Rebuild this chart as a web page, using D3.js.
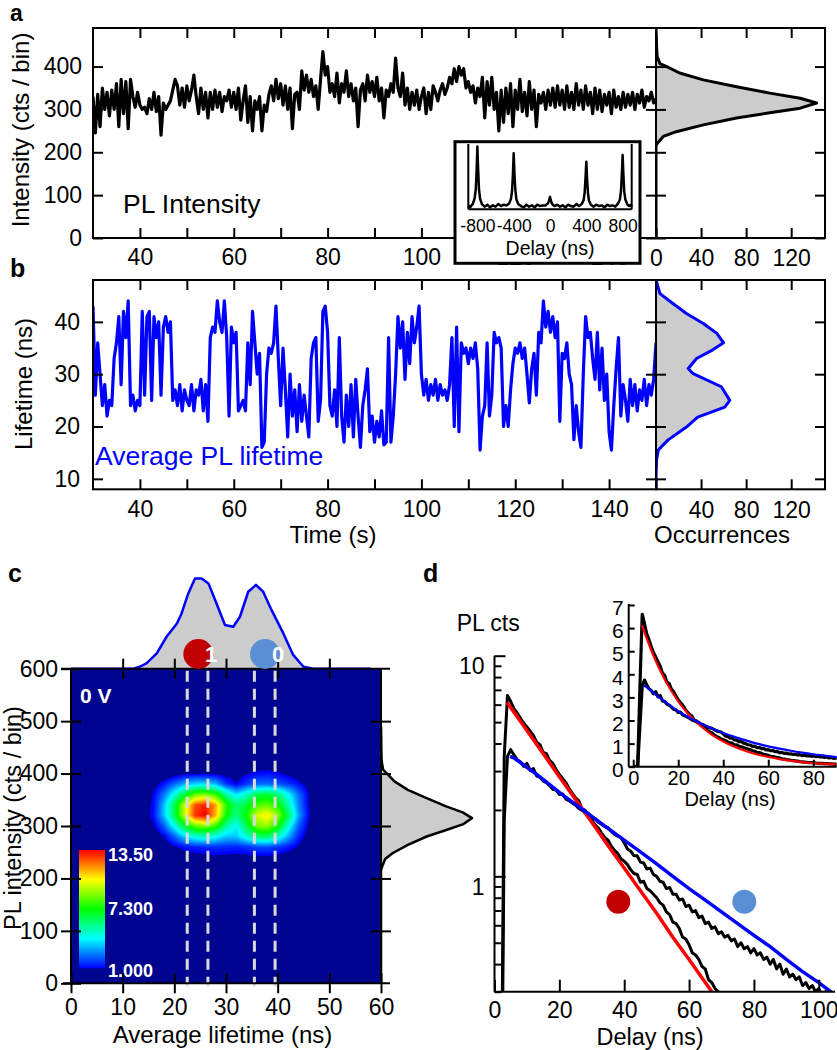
<!DOCTYPE html>
<html><head><meta charset="utf-8">
<script src="https://cdn.jsdelivr.net/npm/d3@7"></script>
<style>
body{margin:0;background:#fff;}
svg text{font-family:"Liberation Sans",Arial,sans-serif;}
</style></head><body>
<svg id="fig" width="837" height="1050" xmlns="http://www.w3.org/2000/svg"></svg>
<script>
// ================= DATA =================
// Panels a/b: time traces sampled every 0.5 s from 30 s
const traceStart = 30, traceStep = 0.5;
const intensityTrace = [
 330,245,335,260,350,300,340,285,345,300, 360,260,370,290,365,255,370,330,305,340,
 310,300,305,290,325,300,340,295,330,240, 315,300,310,320,345,370,355,310,350,305,
 355,320,345,380,330,290,350,300,340,280, 340,300,345,305,340,295,330,320,345,305,
 340,300,350,275,320,355,270,330,250,320, 300,330,250,310,295,335,355,320,370,325,
 360,310,355,300,350,255,335,340,300,390, 345,380,340,370,330,355,300,370,435,380,
 400,340,360,330,385,315,360,340,390,330, 360,320,350,260,345,360,320,380,340,365,
 330,375,320,350,280,345,330,360,340,420, 350,330,385,310,350,300,340,310,345,300,
 330,350,290,340,300,355,340,320,345,360, 335,350,375,360,395,365,400,380,395,350,
 365,340,355,315,350,330,375,280,365,310, 375,300,340,250,345,270,350,290,360,260,
 345,300,370,295,340,285,365,300,345,260, 335,315,340,300,345,310,350,305,355,310,
 345,300,355,305,340,300,360,310,345,300, 355,310,340,290,350,300,345,295,335,310,
 340,290,345,305,330,300,340,305,335,310, 340,300,335,315,345,305,330,320,340,315,
 325];
const lifetimeTrace = [
 43,26,36,30,24,28,22,25,24,33, 36,41,28,42,37,44,24,26,23,25,
 24,42,26,41,42,25,41,37,40,26, 39,41,38,40,25,27,24,28,23,27,
 25,24,28,23,27,26,29,23,28,21, 37,39,38,44,40,38,44,37,22,39,
 36,38,23,24,25,23,36,28,42,36, 30,34,16,17,30,35,34,36,43,33,
 24,35,27,18,30,22,27,19,28,21, 26,22,18,33,36,37,21,25,42,43,
 38,24,22,27,20,37,22,17,26,20, 28,18,29,22,16,24,27,31,19,22,
 17,21,18,23,16.5,17,37,17,22,30, 41,35,40,29,38,32,41,36,39,43,
 30,26,29,25,28,26,29,25,28,26, 27,25,28,37,20,39,19,36,34,35,
 32,35,33,36,31,15.5,22,24,36,22, 26,38,36,37,35,20,24,20,27,32,
 35,34,36,33,35,30,24.5,31,34,26, 38,36,44,39,42,38,41,37,40,21,
 34,33,36,30,28,17.5,24,19,16,30, 41,37,38,33,29,38,27,35,25,30,
 19,15.5,24,31,37,22,28,25,21,29, 24,28,23,27,25,29,24,28,26,29,
 36];
const timeTicks = [40,50,60,70,80,90,100,110,120,130,140];
const intensityTicks = [0,100,200,300,400];
const lifetimeTicks = [10,20,30,40];
const occTicks = [0,40,80,120];

// Intensity histogram (a, and right side of c)
const intHistBins   = [490,470,450,430,422,407,400,385,369,353,338,326,315,303,292,280,264,248,237,221,215,200,0];
const intHistCounts = [0,0.3,0.5,0.8,1.2,3.5,9.5,21,42,71.5,101,128,142.5,128,101,71.5,42,18,6.5,1.2,0,0,0];
// Lifetime histogram (b)
const ltHistBins   = [48,47.3,45.4,43.5,41.6,39.7,37.8,36.0,34.6,33.0,31.1,30.1,27.6,25.0,23.7,21.8,19.9,17.4,15.5,13.6,10.4,8];
const ltHistCounts = [0,1,3.5,15,27,42,54,60,50,36,28.6,33,58,65.5,61,37,27,10.5,2,0.5,0,0];
// Lifetime histogram on top of c
const cTopBins   = [0,12.1,13.3,14.6,16.6,18.5,20.5,21.4,22.7,24.0,25.3,26.6,27.9,29.8,31.4,32.7,34.3,35.8,37.2,38.8,41.1,43.0,45.0,46.9,58];
const cTopCounts = [0,0,1.4,3.8,11,23,32.6,39.8,54.2,65,65,61.4,49.5,31.5,30.2,37.4,55.4,60.3,55.4,42.3,25.4,9.9,1.4,0,0];

// Inset a: photon correlation
const g2Delay = [-900,-880,-860,-850,-830,-818,-808,-800,-792,-782,-770,-750,
 -720,-690,-660,-630,-600,-570,-540,-510,-480,
 -450,-430,-418,-408,-400,-392,-382,-370,-350,
 -320,-290,-260,-230,-200,-170,-140,-110,-80,
 -50,-30,-18,-8,0,8,18,30,50,
 80,110,140,170,200,230,260,290,320,
 350,370,382,392,400,408,418,430,450,
 480,510,540,570,600,630,660,690,720,
 750,770,782,792,800,808,818,830,850,870,890,900];
const g2Counts = [0.06,0.03,0.07,0.08,0.17,0.3,0.6,0.96,0.62,0.3,0.16,0.08,
 0.04,0.07,0.03,0.06,0.04,0.08,0.05,0.07,0.06,
 0.09,0.16,0.28,0.55,0.86,0.56,0.3,0.15,0.08,
 0.05,0.03,0.07,0.04,0.06,0.03,0.07,0.05,0.06,
 0.06,0.08,0.1,0.15,0.19,0.14,0.1,0.07,0.05,
 0.07,0.04,0.06,0.03,0.07,0.05,0.04,0.08,0.05,
 0.08,0.14,0.26,0.5,0.73,0.48,0.25,0.13,0.07,
 0.04,0.07,0.05,0.06,0.03,0.07,0.05,0.06,0.04,
 0.09,0.15,0.28,0.55,0.83,0.55,0.27,0.15,0.08,0.05,0.07,0.04];
const g2Ticks = [-800,-400,0,400,800];

// Panel c: 2D histogram (rows = intensity, top to bottom; cols = lifetime)
const hmLifetimes = [12,14,16,18,20,22,24,26,28,30,32,34,36,38,40,42,44,46,48,50];
const hmIntensities = [440,420,400,380,360,340,320,300,280,260,240,220,200];
const hmValues = [
 [0,0,0,0,0,0,0,0,0,0,0,0,0,0,0,0,0,0,0,0],
 [0,0,0,0,0,0.1,0.2,0.2,0.1,0.1,0.1,0.2,0.3,0.4,0.3,0.1,0,0,0,0],
 [0,0,0,0.2,0.5,0.8,0.9,0.9,0.8,0.6,0.6,0.9,1.2,1.3,1.1,0.8,0.4,0.1,0,0],
 [0,0.1,0.6,1.4,2.4,3.3,3.8,3.9,3.4,1.8,1.0,1.8,2.4,2.5,2.2,1.8,1.3,0.6,0.1,0],
 [0,0.3,1.1,2.6,4.6,6.8,8.6,9.0,8.0,5.5,4.0,5.0,6.4,6.8,6.0,4.4,2.5,1.0,0.2,0],
 [0,0.5,1.2,3.5,6.4,9.8,12.6,13.3,11.6,8.0,6.0,6.8,8.2,8.6,7.6,5.4,2.8,1.0,0.2,0],
 [0,0.5,1.3,3.5,6.4,9.8,13.0,13.7,11.4,7.5,5.8,7.5,10.0,10.8,9.2,6.4,3.2,1.1,0.2,0],
 [0,0.3,0.9,2.3,4.4,6.8,8.6,9.0,8.0,5.5,4.2,6.5,8.8,9.2,7.6,4.8,2.3,0.8,0.1,0],
 [0,0,0.3,1.0,2.3,3.8,4.8,5.0,4.4,3.6,3.6,4.8,6.0,6.2,5.0,3.3,1.6,0.5,0,0],
 [0,0,0,0.3,0.9,1.3,1.5,1.6,1.7,1.6,1.5,1.7,2.0,2.1,1.8,1.4,0.9,0.3,0,0],
 [0,0,0,0,0.2,0.4,0.6,0.7,0.8,0.75,0.7,0.7,0.8,0.8,0.7,0.5,0.3,0,0,0],
 [0,0,0,0,0,0,0,0,0,0,0,0,0,0,0,0,0,0,0,0],
 [0,0,0,0,0,0,0,0,0,0,0,0,0,0,0,0,0,0,0,0]];
const cbRange = [1.0, 13.5];
const cbLabels = ["13.50","7.300","1.000"];
const cbLabelValues = [13.5, 7.3, 1.0];
const gateLines = [22.5, 26.5, 35.5, 39.5];
const cLifeTicks = [0,10,20,30,40,50,60];
const cIntTicks = [0,100,200,300,400,500,600];

// Panel d: decay histograms (1 ns bins from 0 ns)
const decayStart = 0, decayStep = 1;
const decayFast = [0,0,0.05,3.5,6.6,6.2,5.75,5.5,5.2,4.95,
 4.75,4.55,4.35,4.05,3.95,3.65,3.6,3.35,3.25,3.05,
 2.9,2.78,2.66,2.5,2.38,2.27,2.2,2.02,1.99,1.88,
 1.8,1.71,1.66,1.57,1.5,1.46,1.37,1.31,1.27,1.2,
 1.17,1.13,1.07,1.03,1.02,0.94,0.95,0.88,0.86,0.83,
 0.8,0.76,0.74,0.69,0.67,0.62,0.61,0.58,0.53,0.52,
 0.49,0.45,0.44,0.42,0.39,0.38,0.34,0.33,0.31,0.3,
 0.28,0.26,0.25,0.24,0.22,0.21,0.2,0.19,0.18,0.18,
 0.17,0.16,0.15,0.15,0.14,0.13,0.13,0.12,0.12,0.11,
 0.11,0.1,0.1,0.09,0.09,0.09,0.08,0.08,0.08,0.07,
 0.07,0.07,0.07,0.06,0.06,0.06];
const decaySlow = [0,0,0.03,1.8,3.5,3.75,3.55,3.38,3.3,3.15,
 3.25,3.02,3.08,2.85,2.82,2.7,2.66,2.58,2.48,2.46,
 2.35,2.36,2.24,2.2,2.15,2.1,2.03,1.99,1.94,1.93,
 1.84,1.83,1.76,1.72,1.68,1.66,1.6,1.55,1.52,1.5,
 1.42,1.33,1.3,1.24,1.24,1.16,1.15,1.08,1.09,1.02,
 1.0,0.95,0.94,0.88,0.89,0.83,0.83,0.78,0.79,0.73,
 0.74,0.69,0.7,0.65,0.66,0.61,0.62,0.58,0.59,0.55,
 0.56,0.53,0.54,0.51,0.52,0.48,0.5,0.47,0.48,0.45,
 0.47,0.44,0.45,0.42,0.43,0.4,0.42,0.38,0.4,0.36,
 0.38,0.35,0.36,0.34,0.35,0.32,0.33,0.31,0.32,0.3,
 0.31,0.29,0.3,0.28,0.29,0.27];
const fitRedT = [3.9,6,8,10,12,15,20,25,30,35,40,45,50,55,60,65,70,75,80,85,90];
const fitRedV = [6.13,5.55,5.04,4.58,4.16,3.6,2.83,2.23,1.76,1.38,1.09,0.86,0.68,0.53,0.42,0.33,0.26,0.2,0.16,0.13,0.1];
const fitBlueT = [4.8,6,8,10,12,15,20,25,30,35,40,45,50,55,60,65,70,75,80,85,90,95,100,105];
const fitBlueV = [3.5,3.44,3.28,3.12,2.97,2.75,2.4,2.12,1.87,1.65,1.46,1.29,1.14,1.0,0.88,0.78,0.69,0.61,0.54,0.48,0.42,0.37,0.33,0.29];
const delayTicks = [0,20,40,60,80,100];
const insetDelayTicks = [0,20,40,60,80];
const insetCountTicks = [0,1,2,3,4,5,6,7];

// ================= DRAWING =================
const FONT = "Liberation Sans, Arial, sans-serif";
const svg = d3.select("#fig");
const defs = svg.append("defs");
function clip(id, x, y, w, h){ defs.append("clipPath").attr("id",id).append("rect").attr("x",x).attr("y",y).attr("width",w).attr("height",h); return `url(#${id})`; }
function ax(g, axis, fs){
  g.call(axis);
  g.select(".domain").remove();
  g.selectAll(".tick line").attr("stroke","#000").attr("stroke-width",2);
  g.selectAll(".tick text").attr("font-size",fs||23).attr("font-family",FONT).attr("fill","#000");
  return g;
}
function txt(x,y,s,opt={}){
  const t = svg.append("text").attr("x",x).attr("y",y).text(s)
    .attr("font-size",opt.fs||24).attr("font-family",FONT).attr("fill",opt.fill||"#000")
    .attr("text-anchor",opt.anchor||"start");
  if(opt.bold) t.attr("font-weight","bold");
  if(opt.rot) t.attr("transform",`rotate(${opt.rot},${x},${y})`);
  return t;
}
function hline(x1,x2,y,w){ svg.append("line").attr("x1",x1).attr("x2",x2).attr("y1",y).attr("y2",y).attr("stroke","#000").attr("stroke-width",w||2); }
function vline(x,y1,y2,w){ svg.append("line").attr("x1",x).attr("x2",x).attr("y1",y1).attr("y2",y2).attr("stroke","#000").attr("stroke-width",w||2); }
const tAt = i => traceStart + i*traceStep;
const plainNum = d => String(d);

// ---------- Panel a & b shared geometry ----------
const XL = 93, XR = 656, HR = 825;
const xT = d3.scaleLinear().domain([30,150]).range([XL,XR]);
const xOcc = d3.scaleLinear().domain([0,150]).range([XR,HR]);

function timePanel(top, bottom, yScale, trace, color, hBins, hCounts, yTicks, labelPad, leftPad, clipId){
  const cp = clip(clipId, XL, top, XR-XL, bottom-top);
  svg.append("path").datum(trace).attr("clip-path",cp)
    .attr("d", d3.line().x((d,i)=>xT(tAt(i))).y(d=>yScale(d)))
    .attr("fill","none").attr("stroke",color).attr("stroke-width",3.2).attr("stroke-linejoin","round");
  const hd = hBins.map((b,i)=>({b, c:hCounts[i]}));
  const cph = clip(clipId+"h", XR, top, HR-XR, bottom-top);
  svg.append("path").datum(hd).attr("clip-path",cph)
    .attr("d", d3.area().y(d=>yScale(d.b)).x0(xOcc(0)).x1(d=>xOcc(d.c))).attr("fill","#cccccc");
  svg.append("path").datum(hd).attr("clip-path",cph)
    .attr("d", d3.line().y(d=>yScale(d.b)).x(d=>xOcc(d.c)))
    .attr("fill","none").attr("stroke",color).attr("stroke-width",3).attr("stroke-linejoin","round");
  ax(svg.append("g").attr("transform",`translate(${XL},0)`), d3.axisLeft(yScale).tickValues(yTicks).tickSize(-10).tickPadding(leftPad));
  ax(svg.append("g").attr("transform",`translate(0,${bottom})`), d3.axisBottom(xT).tickValues(timeTicks).tickFormat(d=>d%20===0?d:"").tickSize(-10).tickPadding(labelPad));
  ax(svg.append("g").attr("transform",`translate(0,${top})`), d3.axisTop(xT).tickValues(timeTicks).tickFormat("").tickSize(-10));
  ax(svg.append("g").attr("transform",`translate(${XR},0)`), d3.axisLeft(yScale).tickValues(yTicks).tickFormat("").tickSize(10));
  ax(svg.append("g").attr("transform",`translate(${XR},0)`), d3.axisRight(yScale).tickValues(yTicks).tickFormat("").tickSize(10));
  ax(svg.append("g").attr("transform",`translate(${HR},0)`), d3.axisLeft(yScale).tickValues(yTicks).tickFormat("").tickSize(10));
  ax(svg.append("g").attr("transform",`translate(0,${bottom})`), d3.axisBottom(xOcc).tickValues(occTicks).tickSize(-10).tickPadding(labelPad+1));
  ax(svg.append("g").attr("transform",`translate(0,${top})`), d3.axisTop(xOcc).tickValues(occTicks.slice(1)).tickFormat("").tickSize(-10));
  svg.append("rect").attr("x",XL).attr("y",top).attr("width",XR-XL).attr("height",bottom-top).attr("fill","none").attr("stroke","#000").attr("stroke-width",2);
  svg.append("rect").attr("x",XR).attr("y",top).attr("width",HR-XR).attr("height",bottom-top).attr("fill","none").attr("stroke","#000").attr("stroke-width",2);
}

// Panel a
const yInt = d3.scaleLinear().domain([0,490]).range([238,28]);
timePanel(28, 238, yInt, intensityTrace, "#000", intHistBins, intHistCounts, intensityTicks, 11, 11, "clipA");
txt(10,21,"a",{fs:23,bold:true});
txt(123,213,"PL Intensity",{fs:26.5});
txt(29,130,"Intensity (cts / bin)",{anchor:"middle",rot:-90});

// Inset in a
svg.append("rect").attr("x",455).attr("y",141.7).attr("width",185).attr("height",121.6).attr("fill","#fff").attr("stroke","#000").attr("stroke-width",3);
const xG = d3.scaleLinear().domain([-900,900]).range([468.3,631.7]);
const yG = d3.scaleLinear().domain([0,1]).range([209.3,144]);
svg.append("path").datum(g2Delay.map((d,i)=>[d,g2Counts[i]]))
  .attr("d", d3.line().x(d=>xG(d[0])).y(d=>yG(d[1])))
  .attr("fill","none").attr("stroke","#000").attr("stroke-width",2.5).attr("stroke-linejoin","round");
vline(468.3,144,209.3,2); vline(631.7,144,209.3,2); hline(468.3,631.7,209.3,2);
ax(svg.append("g").attr("transform","translate(0,209.3)"), d3.axisBottom(xG).tickValues(g2Ticks).tickFormat(plainNum).tickSize(0).tickPadding(10), 17.5);
txt(550,255,"Delay (ns)",{anchor:"middle",fs:19.5});

// Panel b
const yLt = d3.scaleLinear().domain([8,48]).range([489.3,280]);
timePanel(280, 489.3, yLt, lifetimeTrace, "#0000ff", ltHistBins, ltHistCounts, lifetimeTicks, 11, 13, "clipB");
txt(10,277,"b",{fs:25,bold:true});
txt(95,465,"Average PL lifetime",{fs:26.5,fill:"#0000ff"});
txt(32,384,"Lifetime (ns)",{anchor:"middle",rot:-90});
txt(333,543,"Time (s)",{anchor:"middle"});
txt(722,543,"Occurrences",{anchor:"middle"});

// ---------- Panel c ----------
const C = {l:71, r:381, t:668.7, b:983.3};
const xC = d3.scaleLinear().domain([0,60]).range([C.l,C.r]);
const yC = d3.scaleLinear().domain([0,600]).range([C.b,C.t]);
const yCTop = d3.scaleLinear().domain([0,65]).range([C.t, C.t-90.3]);
const ctd = cTopBins.map((b,i)=>({b,c:cTopCounts[i]}));
svg.append("path").datum(ctd).attr("d", d3.area().x(d=>xC(d.b)).y0(yCTop(0)).y1(d=>yCTop(d.c))).attr("fill","#cccccc");
svg.append("path").datum(ctd).attr("d", d3.line().x(d=>xC(d.b)).y(d=>yCTop(d.c)))
  .attr("fill","none").attr("stroke","#0000ff").attr("stroke-width",2.5).attr("stroke-linejoin","round");
const xCR = d3.scaleLinear().domain([0,142.5]).range([C.r, 472]);
const crd = intHistBins.map((b,i)=>({b,c:intHistCounts[i]}));
svg.append("path").datum(crd).attr("d", d3.area().y(d=>yC(d.b)).x0(xCR(0)).x1(d=>xCR(d.c))).attr("fill","#cccccc");
svg.append("path").datum(crd).attr("d", d3.line().y(d=>yC(d.b)).x(d=>xCR(d.c)))
  .attr("fill","none").attr("stroke","#000").attr("stroke-width",2.5).attr("stroke-linejoin","round");
svg.append("rect").attr("x",C.l).attr("y",C.t).attr("width",C.r-C.l).attr("height",C.b-C.t).attr("fill","#00058f");
const nx = hmLifetimes.length, ny = hmIntensities.length, K = 5;
const NX = (nx-1)*K+1, NY = (ny-1)*K+1;
const fine = new Float64Array(NX*NY);
for(let j=0;j<NY;j++){ const gy=j/K, j0=Math.min(Math.floor(gy),ny-2), fy=gy-j0;
  for(let i=0;i<NX;i++){ const gx=i/K, i0=Math.min(Math.floor(gx),nx-2), fx=gx-i0;
    const a=hmValues[j0][i0], b=hmValues[j0][i0+1], c=hmValues[j0+1][i0], d=hmValues[j0+1][i0+1];
    fine[j*NX+i]=(a*(1-fx)+b*fx)*(1-fy)+(c*(1-fx)+d*fx)*fy; } }
const colorOf = v => d3.hsl(240*(1-(v-cbRange[0])/(cbRange[1]-cbRange[0])),1,0.5).toString();
const thresholds = d3.range(cbRange[0], cbRange[1]+0.01, 0.25);
const idxL = d3.scaleLinear().domain([0,nx-1]).range([hmLifetimes[0],hmLifetimes[nx-1]]);
const idxI = d3.scaleLinear().domain([0,ny-1]).range([hmIntensities[0],hmIntensities[ny-1]]);
const proj = d3.geoTransform({point:function(x,y){ this.stream.point(xC(idxL((x-0.5)/K)), yC(idxI((y-0.5)/K))); }});
const cpC = clip("clipC", C.l, C.t, C.r-C.l, C.b-C.t);
svg.append("g").attr("clip-path",cpC).selectAll("path")
  .data(d3.contours().size([NX,NY]).thresholds(thresholds)(fine)).join("path")
  .attr("d", d3.geoPath(proj)).attr("fill", d=>colorOf(d.value)).attr("stroke","none");
svg.append("g").selectAll("line").data(gateLines).join("line")
  .attr("x1",d=>xC(d)).attr("x2",d=>xC(d)).attr("y1",C.t+2).attr("y2",C.b+3)
  .attr("stroke","#d9d9d9").attr("stroke-width",3).attr("stroke-dasharray","11,7");
const grad = defs.append("linearGradient").attr("id","cbg").attr("x1",0).attr("y1",1).attr("x2",0).attr("y2",0);
d3.range(0,1.001,0.05).forEach(f=>grad.append("stop").attr("offset",f).attr("stop-color",colorOf(cbRange[0]+f*(cbRange[1]-cbRange[0]))));
const yCB = d3.scaleLinear().domain(cbRange).range([968.3,850]);
svg.append("rect").attr("x",79).attr("y",850).attr("width",26).attr("height",118.3).attr("fill","url(#cbg)");
cbLabelValues.forEach((v,i)=>{
  const y = i===0 ? yCB(v)+11 : (i===2 ? yCB(v)+8.5 : yCB(v)+6);
  txt(108,y,cbLabels[i],{fs:18,bold:true,fill:"#fff"});
});
txt(80,703,"0 V",{fs:21,bold:true,fill:"#fff"});
hline(61,390,C.t); hline(63,390,C.b); vline(C.r,C.t,C.b); vline(C.l,C.t,C.b);
ax(svg.append("g").attr("transform",`translate(0,${C.b})`), d3.axisBottom(xC).tickValues(cLifeTicks).tickSize(10).tickPadding(5));
ax(svg.append("g").attr("transform",`translate(0,${C.b})`), d3.axisBottom(xC).tickValues(cLifeTicks).tickFormat("").tickSize(-10));
ax(svg.append("g").attr("transform",`translate(0,${C.t})`), d3.axisTop(xC).tickValues(cLifeTicks.slice(1,-1)).tickFormat("").tickSize(10));
ax(svg.append("g").attr("transform",`translate(0,${C.t})`), d3.axisTop(xC).tickValues(cLifeTicks.slice(1,-1)).tickFormat("").tickSize(-10));
ax(svg.append("g").attr("transform",`translate(${C.l},0)`), d3.axisLeft(yC).tickValues(cIntTicks).tickSize(10).tickPadding(3));
ax(svg.append("g").attr("transform",`translate(${C.l},0)`), d3.axisLeft(yC).tickValues(cIntTicks).tickFormat("").tickSize(-10));
ax(svg.append("g").attr("transform",`translate(${C.r},0)`), d3.axisRight(yC).tickValues(cIntTicks.slice(1,-1)).tickFormat("").tickSize(10));
ax(svg.append("g").attr("transform",`translate(${C.r},0)`), d3.axisRight(yC).tickValues(cIntTicks.slice(1,-1)).tickFormat("").tickSize(-10));
svg.append("circle").attr("cx",198.3).attr("cy",654).attr("r",15).attr("fill","#c00000");
svg.append("circle").attr("cx",265).attr("cy",654).attr("r",15).attr("fill","#5b8fd5");
txt(211,662,"1",{fs:22,bold:true,fill:"#fff",anchor:"middle"});
txt(278,662,"0",{fs:22,bold:true,fill:"#fff",anchor:"middle"});
txt(8,582,"c",{fs:25,bold:true});
txt(222.5,1043,"Average lifetime (ns)",{anchor:"middle"});
txt(21,818,"PL intensity (cts / bin)",{anchor:"middle",rot:-90,fs:23.5});

// ---------- Panel d ----------
const D = {l:494.5, r:835, t:655.7, b:991.7};
const xD = d3.scaleLinear().domain([0,105]).range([D.l,D.r]);
const yD = d3.scaleLog().domain([0.3,10]).range([D.b,D.t]);
const cpD = clip("clipD", D.l, D.t-5, D.r-D.l+2, D.b-D.t+5);
const dAt = i => decayStart + i*decayStep;
const logLine = d3.line().defined(d=>d[1]>0).x(d=>xD(d[0])).y(d=>yD(Math.max(d[1],0.01)));
[decayFast, decaySlow].forEach(arr=>{
  svg.append("path").datum(arr.map((v,i)=>[dAt(i),v])).attr("clip-path",cpD).attr("d",logLine)
    .attr("fill","none").attr("stroke","#000").attr("stroke-width",3).attr("stroke-linejoin","round");
});
svg.append("path").datum(fitRedT.map((t,i)=>[t,fitRedV[i]])).attr("clip-path",cpD).attr("d",logLine)
  .attr("fill","none").attr("stroke","#ff0000").attr("stroke-width",3.5);
svg.append("path").datum(fitBlueT.map((t,i)=>[t,fitBlueV[i]])).attr("clip-path",cpD).attr("d",logLine)
  .attr("fill","none").attr("stroke","#0000ff").attr("stroke-width",3.5);
vline(D.l,D.t,D.b); hline(D.l,D.r,D.b);
const gy = ax(svg.append("g").attr("transform",`translate(${D.l},0)`), d3.axisRight(yD).tickValues(yD.ticks()).tickFormat("").tickSize(7));
gy.selectAll(".tick line").attr("x2", d=> (Math.abs(Math.log10(d)-Math.round(Math.log10(d)))<1e-9) ? 11 : 7);
const gyl = ax(svg.append("g").attr("transform",`translate(${D.l},0)`), d3.axisLeft(yD).tickValues([1,10]).tickFormat(plainNum).tickSize(0).tickPadding(10));
gyl.selectAll(".tick text").attr("y",10.5);
ax(svg.append("g").attr("transform",`translate(0,${D.b})`), d3.axisBottom(xD).tickValues(delayTicks).tickSize(-12).tickPadding(10));
svg.append("circle").attr("cx",618.3).attr("cy",901.7).attr("r",12).attr("fill","#c00000");
svg.append("circle").attr("cx",744.3).attr("cy",901.7).attr("r",12).attr("fill","#5b8fd5");
txt(423,582,"d",{fs:25,bold:true});
txt(456.7,631,"PL cts",{fs:23});
txt(650,1045,"Delay (ns)",{anchor:"middle",fs:23.5});

// Inset d (linear)
const xI = d3.scaleLinear().domain([-2,90.4]).range([628.7,836.7]);
const yI = d3.scaleLinear().domain([0,7]).range([766.7,605]);
const cpI = clip("clipI", 628.7, 600, 836.7-628.7, 766.7-600);
const linLine = d3.line().x(d=>xI(d[0])).y(d=>yI(d[1]));
[decayFast, decaySlow].forEach(arr=>{
  svg.append("path").datum(arr.map((v,i)=>[dAt(i),v])).attr("clip-path",cpI).attr("d",linLine)
    .attr("fill","none").attr("stroke","#000").attr("stroke-width",3.2).attr("stroke-linejoin","round");
});
const smooth = d3.line().curve(d3.curveMonotoneX).x(d=>xI(d[0])).y(d=>yI(d[1]));
svg.append("path").datum(fitRedT.map((t,i)=>[t,fitRedV[i]])).attr("clip-path",cpI).attr("d",smooth)
  .attr("fill","none").attr("stroke","#ff0000").attr("stroke-width",2.2);
svg.append("path").datum(fitBlueT.map((t,i)=>[t,fitBlueV[i]])).attr("clip-path",cpI).attr("d",smooth)
  .attr("fill","none").attr("stroke","#0000ff").attr("stroke-width",2.2);
vline(628.7,604,766.7); hline(628.7,836.7,766.7);
ax(svg.append("g").attr("transform","translate(628.7,0)"), d3.axisRight(yI).tickValues(insetCountTicks).tickFormat("").tickSize(6));
const gil = ax(svg.append("g").attr("transform","translate(628.7,0)"), d3.axisLeft(yI).tickValues(insetCountTicks).tickFormat(plainNum).tickSize(0).tickPadding(5), 21);
gil.selectAll(".tick text").attr("y",3);
ax(svg.append("g").attr("transform","translate(0,766.7)"), d3.axisBottom(xI).tickValues(insetDelayTicks).tickFormat(plainNum).tickSize(-7).tickPadding(4), 20);
txt(730,806,"Delay (ns)",{anchor:"middle",fs:20});
</script></body></html>
